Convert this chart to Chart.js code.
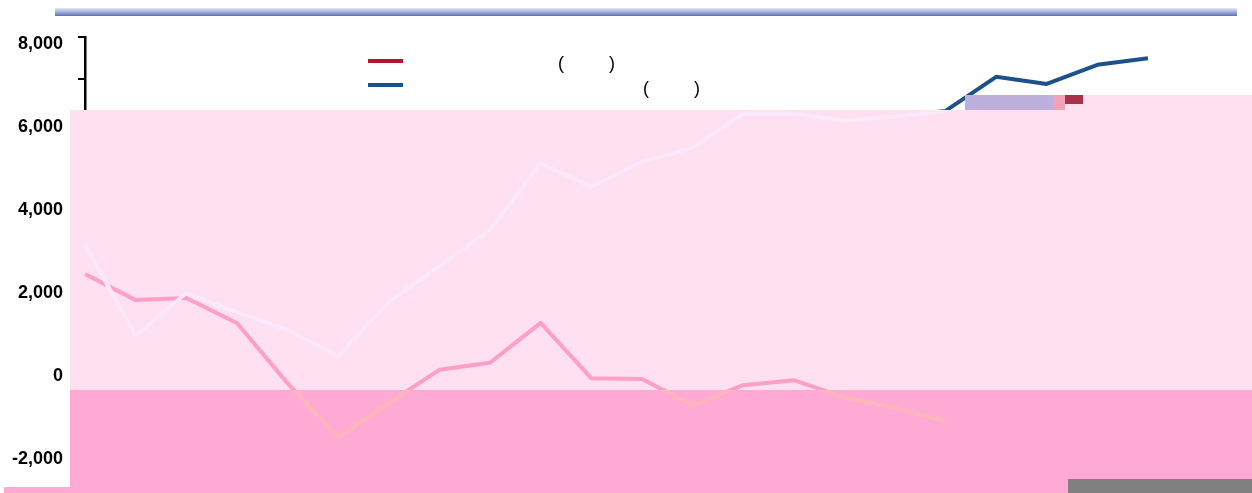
<!DOCTYPE html>
<html>
<head>
<meta charset="utf-8">
<script src="https://cdn.jsdelivr.net/npm/chart.js@4.4.1/dist/chart.umd.min.js"></script>
<style>
  html, body { margin: 0; padding: 0; background: #ffffff; }
  #wrap { width: 1252px; height: 493px; position: relative; }
</style>
</head>
<body>
<div id="wrap"><canvas id="c"></canvas></div>
<script>
// ---- data ----
const categories = ['1990','1991','1992','1993','1994','1995','1996','1997','1998','1999','2000',
                    '2001','2002','2003','2004','2005','2006','2007','2008','2009','2010','2011'];
const seriesNames = ['(         )', '(         )'];
const seriesRed  = [2290, 1660, 1710, 1110, -340, -1640, -820, -20, 150, 1110, -220,
                    -240, -870, -390, -270, -680, -940, -1250, null, null, null, null];
const seriesBlue = [2990, 800, 1830, 1370, 940, 310, 1610, 2480, 3350, 4960, 4390,
                    4990, 5330, 6150, 6150, 5980, 6080, 6220, 7040, 6870, 7330, 7490];
const yTicks = [-2000, -1000, 0, 1000, 2000, 3000, 4000, 5000, 6000, 7000, 8000];

// ---- styles ----
const RED = '#b3162b', BLUE = '#1d5189';
const LIGHT = 'rgb(254,224,240)', DARK = 'rgb(255,170,213)';
const RED_LIGHT = '#ff9fc5', BLUE_LIGHT = '#fbe9fb';
const RED_DARK = '#ffb5bc', BLUE_DARK = '#ffd3ee';
const FONT = '"Liberation Sans", Arial, sans-serif';

const LIGHT_RECTS = [[70, 110, 1182, 280], [965, 95, 287, 15]];
const DARK_RECTS  = [[70, 390, 1182, 103], [4, 487, 66, 6]];

function redrawWashed(chart, rects, colors) {
  const ctx = chart.ctx;
  ctx.save();
  ctx.beginPath();
  rects.forEach(r => ctx.rect(r[0], r[1], r[2], r[3]));
  ctx.clip();
  chart.data.datasets.forEach((ds, i) => {
    const el = chart.getDatasetMeta(i).dataset;
    if (!el) return;
    const orig = el.options;
    el.options = Object.assign({}, orig, { borderColor: colors[i] });
    el.draw(ctx, chart.chartArea);
    el.options = orig;
  });
  ctx.restore();
}

const overlayPlugin = {
  id: 'overlay',
  afterDatasetsDraw(chart) {
    const ctx = chart.ctx;
    ctx.save();
    ctx.fillStyle = LIGHT;
    LIGHT_RECTS.forEach(r => ctx.fillRect(r[0], r[1], r[2], r[3]));
    ctx.fillStyle = DARK;
    DARK_RECTS.forEach(r => ctx.fillRect(r[0], r[1], r[2], r[3]));
    ctx.restore();
    redrawWashed(chart, LIGHT_RECTS, [RED_LIGHT, BLUE_LIGHT]);
    redrawWashed(chart, DARK_RECTS, [RED_DARK, BLUE_DARK]);
  },
  afterDraw(chart) {
    const ctx = chart.ctx;
    ctx.save();
    // top decorative bar
    const g = ctx.createLinearGradient(0, 8, 0, 16);
    g.addColorStop(0, '#e6eaf7');
    g.addColorStop(0.45, '#a6b5de');
    g.addColorStop(1, '#5a70b6');
    ctx.fillStyle = g;
    ctx.fillRect(55, 8, 1182, 8);
    // corrupted blocks
    ctx.fillStyle = '#bdb0dc'; ctx.fillRect(965, 95, 88, 15);
    ctx.fillStyle = '#f2a2b6'; ctx.fillRect(1053, 95, 12, 15);
    ctx.fillStyle = '#a8324b'; ctx.fillRect(1065, 95, 18, 9);
    ctx.fillStyle = '#808080'; ctx.fillRect(1068, 479, 184, 14);
    // legend
    const rowsY = [61, 85], textX = [558, 643], baseY = [69, 94];
    chart.data.datasets.forEach((ds, i) => {
      ctx.strokeStyle = ds.borderColor;
      ctx.lineWidth = 4;
      ctx.lineCap = 'butt';
      ctx.beginPath();
      ctx.moveTo(368, rowsY[i]);
      ctx.lineTo(403, rowsY[i]);
      ctx.stroke();
      ctx.fillStyle = '#000';
      ctx.font = '18px ' + FONT;
      ctx.textBaseline = 'alphabetic';
      ctx.textAlign = 'left';
      ctx.fillText(ds.label, textX[i], baseY[i]);
    });
    ctx.restore();
  }
};

new Chart(document.getElementById('c'), {
  type: 'line',
  data: {
    labels: categories,
    datasets: [
      { label: seriesNames[0], data: seriesRed, borderColor: RED, backgroundColor: RED,
        borderWidth: 4, pointRadius: 0, tension: 0, borderJoinStyle: 'round', spanGaps: false },
      { label: seriesNames[1], data: seriesBlue, borderColor: BLUE, backgroundColor: BLUE,
        borderWidth: 4, pointRadius: 0, tension: 0, borderJoinStyle: 'round' }
    ]
  },
  options: {
    responsive: true,
    maintainAspectRatio: false,
    animation: false,
    layout: { padding: { left: 0, top: 37, right: 104, bottom: 0 } },
    plugins: { legend: { display: false }, tooltip: { enabled: false }, title: { display: false } },
    scales: {
      x: {
        type: 'category',
        offset: false,
        grid: { display: false },
        border: { display: false },
        ticks: { color: 'rgb(255,184,223)', font: { family: FONT, size: 16, weight: 'bold' },
                 maxRotation: 0, autoSkip: false, padding: -60, z: 1 },
        afterFit(s) { s.height = 41; }
      },
      y: {
        min: -2000, max: 8000,
        afterBuildTicks(s) { s.ticks = yTicks.map(v => ({ value: v })); },
        grid: { drawOnChartArea: false, drawTicks: true, tickLength: 7, color: '#000', lineWidth: 2 },
        border: { display: true, color: '#000', width: 2.5 },
        ticks: {
          color: '#000', padding: 15, labelOffset: 7,
          font: { family: FONT, size: 18, weight: 'bold' },
          callback: v => (v % 2000 === 0 ? v.toLocaleString('en-US') : '')
        },
        afterFit(s) { s.width = 85; }
      }
    }
  },
  plugins: [overlayPlugin]
});
</script>
</body>
</html>
